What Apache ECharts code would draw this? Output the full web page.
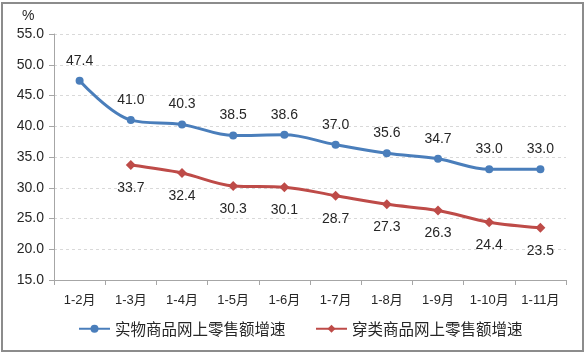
<!DOCTYPE html>
<html><head><meta charset="utf-8">
<script src="https://cdn.jsdelivr.net/npm/echarts@6/dist/echarts.min.js"></script>
<style>html,body{margin:0;padding:0;background:#fff}#c{width:587px;height:357px}</style>
</head><body><div id="c"></div>
<script>
var categories = ['1-2月','1-3月','1-4月','1-5月','1-6月','1-7月','1-8月','1-9月','1-10月','1-11月'];
var physicalGoods = [47.4, 41.0, 40.3, 38.5, 38.6, 37.0, 35.6, 34.7, 33.0, 33.0];
var clothing = [null, 33.7, 32.4, 30.3, 30.1, 28.7, 27.3, 26.3, 24.4, 23.5];
var seriesNames = ['实物商品网上零售额增速', '穿类商品网上零售额增速'];
var yTicks = {min: 15, max: 55, interval: 5};

var chart = echarts.init(document.getElementById('c'), null, {renderer: 'canvas'});
var font = '"Liberation Sans", Arial, "Noto Sans CJK SC", sans-serif';
var legendText = {fontSize: 15.5, color: '#262626', fontFamily: '"Noto Sans CJK SC", sans-serif'};
chart.setOption({
  animation: false,
  backgroundColor: '#fff',
  textStyle: {fontFamily: font},
  graphic: [
    {type: 'rect', shape: {x: 2, y: 3, width: 581, height: 348}, style: {fill: 'none', stroke: '#8c8c8c', lineWidth: 2}, silent: true},
    {type: 'text', left: 22, top: 9, style: {text: '%', fontSize: 14, fill: '#262626', fontFamily: font}}
  ],
  grid: {left: 54, right: 21, top: 34, bottom: 77},
  legend: [
    {left: 73, top: 316, itemWidth: 31, itemHeight: 10, textStyle: legendText, data: [seriesNames[0]]},
    {left: 310, top: 316, itemWidth: 31, itemHeight: 10, textStyle: legendText, data: [seriesNames[1]]}
  ],
  xAxis: {
    type: 'category', data: categories, boundaryGap: true,
    axisLine: {lineStyle: {color: '#a6a6a6', width: 1}},
    axisTick: {show: true, alignWithLabel: false, length: 5, lineStyle: {color: '#a6a6a6'}},
    axisLabel: {fontSize: 13, color: '#262626', margin: 14, fontFamily: font}
  },
  yAxis: {
    type: 'value', min: yTicks.min, max: yTicks.max, interval: yTicks.interval,
    axisLine: {show: true, lineStyle: {color: '#a6a6a6'}},
    axisTick: {show: true, length: 5, lineStyle: {color: '#a6a6a6'}},
    axisLabel: {fontSize: 14, color: '#262626', margin: 10, formatter: function(v){return v.toFixed(1);}},
    splitLine: {lineStyle: {color: '#d9d9d9', type: [3, 3]}}
  },
  series: [
    {
      name: seriesNames[0], type: 'line', data: physicalGoods, smooth: 0.35,
      symbol: 'circle', symbolSize: 8,
      itemStyle: {color: '#4a7ebb'}, lineStyle: {width: 3, color: '#4a7ebb'},
      label: {show: true, position: 'top', distance: 9, fontSize: 14, color: '#262626', formatter: function(p){return p.value.toFixed(1);}}
    },
    {
      name: seriesNames[1], type: 'line', data: clothing, smooth: 0.35,
      symbol: 'diamond', symbolSize: 10,
      itemStyle: {color: '#be4b48'}, lineStyle: {width: 3, color: '#be4b48'},
      label: {show: true, position: 'bottom', distance: 11, fontSize: 14, color: '#262626', formatter: function(p){return p.value == null ? '' : p.value.toFixed(1);}}
    }
  ]
});
</script></body></html>
